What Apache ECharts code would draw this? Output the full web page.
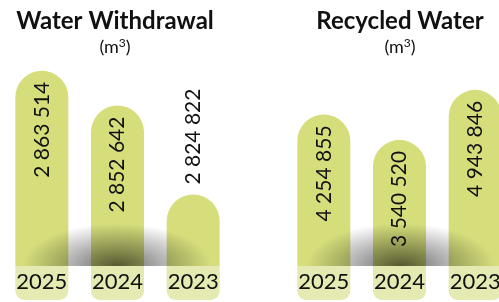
<!DOCTYPE html>
<html>
<head>
<meta charset="utf-8">
<script src="https://cdn.jsdelivr.net/npm/echarts@6/dist/echarts.min.js"></script>
<style>
html, body { margin: 0; padding: 0; background: #fff; }
#chart { width: 499px; height: 302px; }
</style>
</head>
<body>
<div id="chart"></div>
<script>
// 年份
var years = ['2025', '2024', '2023'];
// 取水量 (m³)
var withdrawal = [2863514, 2852642, 2824822];
// 循环水量 (m³)
var recycled = [4254855, 3540520, 4943846];

var barColor = '#d6de7c';
var tagColor = '#e4eab1';
var font = 'Lato';

// 数字格式：空格分隔千位
function fmt(v) {
	return String(v).replace(/\B(?=(\d{3})+(?!\d))/g, ' ');
}

// 底部阴影
function shadow(cx) {
	return {
		type: 'rect',
		x: cx,
		y: 266,
		scaleY: 0.45,
		z: 100,
		silent: true,
		shape: { x: -100, y: -100, width: 200, height: 100 },
		style: {
			fill: {
				type: 'radial', x: 0.5, y: 1, r: 0.95,
				colorStops: [
					{ offset: 0, color: 'rgba(0,0,0,0.6)' },
					{ offset: 0.45, color: 'rgba(0,0,0,0.32)' },
					{ offset: 1, color: 'rgba(0,0,0,0)' }
				]
			}
		}
	};
}

function title(cx, text) {
	return [{
		type: 'text', x: cx, y: 9,
		style: { text: text, textAlign: 'center', fill: '#111', font: 'bold 24px ' + font }
	}, {
		type: 'text', x: cx, y: 36,
		style: {
			text: '{a|(m}{s|3}{a|)}',
			textAlign: 'center',
			fill: '#111',
			rich: {
				a: { fontFamily: font, fontSize: 18, lineHeight: 20, verticalAlign: 'bottom' },
				s: { fontFamily: font, fontSize: 12, lineHeight: 20, verticalAlign: 'bottom', padding: [0, 0, 7, 0] }
			}
		}
	}];
}

function barData(values, outsideIdx) {
	return values.map(function(v, i) {
		var item = { value: v };
		if (i === outsideIdx) {
			item.label = { position: 'top', align: 'left', distance: 10 };
		}
		return item;
	});
}

var xAxisBase = {
	type: 'category',
	axisLine: { show: false },
	axisTick: { show: false },
	axisLabel: {
		margin: 0,
		color: '#111',
		fontFamily: font,
		fontSize: 22,
		backgroundColor: tagColor,
		width: 53,
		height: 34,
		lineHeight: 31,
		align: 'center',
		verticalAlign: 'top',
		borderRadius: [0, 0, 9, 9]
	}
};

var labelBase = {
	show: true,
	position: 'insideTop',
	rotate: 90,
	align: 'right',
	verticalAlign: 'middle',
	distance: 11,
	color: '#111',
	fontFamily: font,
	fontSize: 21,
	formatter: function(p) { return fmt(p.value); }
};

var myChart = echarts.init(document.getElementById('chart'));

var option = {
	animation: false,
	grid: [
		{ left: 4, width: 227, top: 66, bottom: 36, outerBoundsMode: 'none' },
		{ left: 286, width: 227, top: 66, bottom: 36, outerBoundsMode: 'none' }
	],
	xAxis: [
		Object.assign({ gridIndex: 0, data: years }, xAxisBase),
		Object.assign({ gridIndex: 1, data: years }, xAxisBase)
	],
	yAxis: [
		{ gridIndex: 0, min: 2802500, max: 2865000, show: false },
		{ gridIndex: 1, min: 0, max: 5614000, show: false }
	],
	series: [{
		type: 'bar',
		xAxisIndex: 0,
		yAxisIndex: 0,
		barWidth: 53,
		itemStyle: { color: barColor, borderRadius: [27, 27, 0, 0] },
		label: labelBase,
		data: barData(withdrawal, 2)
	}, {
		type: 'bar',
		xAxisIndex: 1,
		yAxisIndex: 1,
		barWidth: 53,
		itemStyle: { color: barColor, borderRadius: [27, 27, 0, 0] },
		label: labelBase,
		data: barData(recycled, -1)
	}],
	graphic: [shadow(117), shadow(401)]
		.concat(title(115, 'Water Withdrawal'))
		.concat(title(400, 'Recycled Water'))
};

myChart.setOption(option);
</script>
</body>
</html>
